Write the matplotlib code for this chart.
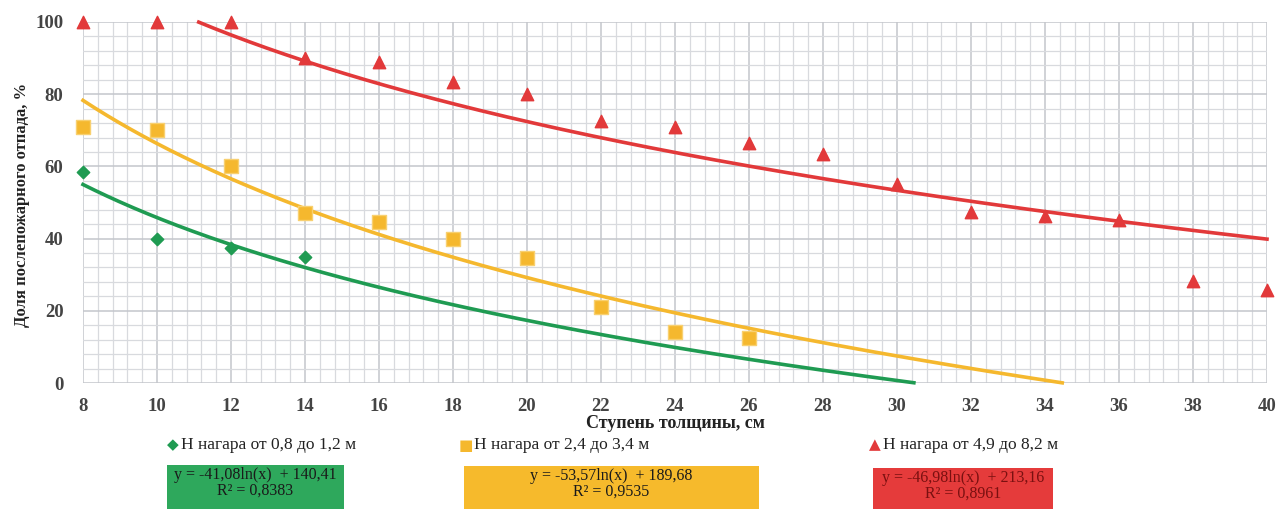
import matplotlib
matplotlib.use("Agg")
import matplotlib.pyplot as plt
from matplotlib.patches import Rectangle
from matplotlib.ticker import MultipleLocator
import numpy as np

plt.rcParams['font.family'] = ['Liberation Serif', 'DejaVu Sans']

# данные
x_g = [8, 10, 12, 14]
y_g = [58.5, 40, 37.5, 35]
x_y = [8, 10, 12, 14, 16, 18, 20, 22, 24, 26]
y_y = [71, 70, 60, 47, 44.5, 40, 34.5, 21, 14, 12.5]
x_r = [8, 10, 12, 14, 16, 18, 20, 22, 24, 26, 28, 30, 32, 34, 36, 38, 40]
y_r = [100, 100, 100, 90, 89, 83.5, 80, 72.5, 71, 66.5, 63.3, 55, 47.3, 46.2, 45.2, 28.3, 25.8]

# коэффициенты трендов y = a*ln(x) + b
coef = {"g": (-41.08, 140.41), "y": (-53.57, 189.68), "r": (-46.98, 213.16)}
labels = ["Н нагара от 0,8 до 1,2 м", "Н нагара от 2,4 до 3,4 м", "Н нагара от 4,9 до 8,2 м"]
eqs = ["y = -41,08ln(x)  + 140,41\nR² = 0,8383",
       "y = -53,57ln(x)  + 189,68\nR² = 0,9535",
       "y = -46,98ln(x)  + 213,16\nR² = 0,8961"]

c_g, c_y, c_r = "#1f9b52", "#f5b82e", "#e2393a"
box_g, box_y, box_r = "#2ea85c", "#f6ba2c", "#e53b3b"

W, H = 1279, 509
fig = plt.figure(figsize=(W / 100, H / 100), dpi=100)
ax = fig.add_axes([83 / W, 1 - 383 / H, (1267 - 83) / W, (383 - 22) / H])

ax.set_xlim(8, 40)
ax.set_ylim(0, 100)
ax.xaxis.set_major_locator(MultipleLocator(2))
ax.xaxis.set_minor_locator(MultipleLocator(0.4))
ax.yaxis.set_major_locator(MultipleLocator(20))
ax.yaxis.set_minor_locator(MultipleLocator(4))
ax.grid(which="major", color="#c4c6cc", lw=1.1)
ax.grid(which="minor", color="#d8dade", lw=0.9)
ax.set_axisbelow(True)
for s in ax.spines.values():
    s.set_visible(False)
ax.tick_params(which="both", length=0, labelsize=13.5, labelcolor="#444444")
ax.tick_params(axis="x", pad=11)
ax.tick_params(axis="y", pad=14)
for t in ax.get_xticklabels() + ax.get_yticklabels():
    t.set_fontweight("bold")

xs = np.linspace(8, 40, 400)
for key, col in [("g", c_g), ("y", c_y), ("r", c_r)]:
    a, b = coef[key]
    yy = a * np.log(xs) + b
    m = (yy >= 0) & (yy <= 100)
    ax.plot(xs[m], yy[m], color=col, lw=2.6, clip_on=False, zorder=3)

ax.scatter(x_g, y_g, marker="D", s=40, color=c_g, zorder=4, clip_on=False)
ax.scatter(x_y, y_y, marker="s", s=115, color=c_y, edgecolors="#f8d070", lw=1, zorder=4, clip_on=False)
ax.scatter(x_r, y_r, marker="^", s=80, color=c_r, zorder=4, clip_on=False)

fig.text(22 / W, 1 - 205 / H, "Доля послепожарного отпада, %", rotation=90,
         ha="center", va="center", fontsize=12, fontweight="bold", color="#222222")
fig.text(675 / W, 1 - 424 / H, "Ступень толщины, см", ha="center", va="center",
         fontsize=13, fontweight="bold", color="#222222")

# легенда
leg = [(173, "◆", c_g, labels[0]), (466, "■", c_y, labels[1]), (875, "▲", c_r, labels[2])]
for px, mk, col, lab in leg:
    fig.text(px / W, 1 - 445 / H, mk, color=col, fontsize=11, family="DejaVu Sans",
             ha="center", va="center")
    fig.text((px + 8) / W, 1 - 445 / H, lab, color="#222222", fontsize=12.5,
             ha="left", va="center")

# подписи уравнений
boxes = [(167, 344, 465, box_g, eqs[0], "#1a1a1a"),
         (464, 759, 466, box_y, eqs[1], "#1a1a1a"),
         (873, 1053, 468, box_r, eqs[2], "#7a1010")]
for x0, x1, y0, col, txt, tc in boxes:
    fig.patches.append(Rectangle((x0 / W, 0), (x1 - x0) / W, 1 - y0 / H,
                                 transform=fig.transFigure, facecolor=col, edgecolor="none"))
    fig.text((x0 + x1) / 2 / W, 1 - (y0 + 18) / H, txt, ha="center", va="center",
             fontsize=11.5, color=tc, linespacing=1.0)

fig.savefig("out.png", dpi=100)
